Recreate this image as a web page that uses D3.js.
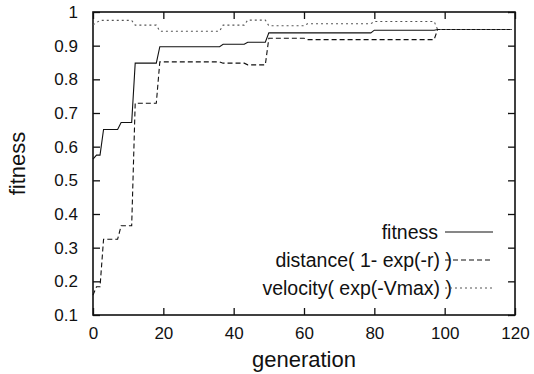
<!DOCTYPE html>
<html><head><meta charset="utf-8">
<script src="https://cdn.jsdelivr.net/npm/d3@7"></script>
<style>body{margin:0;background:#fff}svg{display:block}text{font-family:"Liberation Sans",Arial,sans-serif;fill:#111}</style>
</head><body><div id="c"></div>
<script>
// Breakpoint data (generation, value)
const fitnessGen = [0, 1, 2, 3, 7, 8, 11, 12, 18, 19, 36, 37, 43, 44, 49, 50, 79, 80, 97, 98, 119];
const fitnessVal = [0.563, 0.575, 0.575, 0.651, 0.651, 0.672, 0.672, 0.848, 0.848, 0.897, 0.897, 0.904, 0.904, 0.910, 0.910, 0.938, 0.938, 0.946, 0.946, 0.948, 0.948];
const distanceGen = [0, 1, 2, 3, 7, 8, 11, 12, 18, 19, 36, 37, 43, 44, 49, 50, 60, 61, 97, 98, 119];
const distanceVal = [0.159, 0.184, 0.184, 0.325, 0.325, 0.365, 0.365, 0.729, 0.729, 0.852, 0.852, 0.848, 0.848, 0.843, 0.843, 0.922, 0.922, 0.918, 0.918, 0.948, 0.948];
const velocityGen = [0, 2, 11, 12, 18, 19, 36, 37, 43, 44, 49, 50, 60, 61, 79, 80, 97, 98, 119];
const velocityVal = [0.962, 0.975, 0.975, 0.961, 0.961, 0.943, 0.943, 0.961, 0.961, 0.976, 0.976, 0.959, 0.959, 0.965, 0.965, 0.972, 0.972, 0.948, 0.948];
const seriesNames = ["fitness", "distance( 1- exp(-r) )", "velocity( exp(-Vmax) )"];
const xTicks = [0, 20, 40, 60, 80, 100, 120];
const yTicks = [0.1, 0.2, 0.3, 0.4, 0.5, 0.6, 0.7, 0.8, 0.9, 1];
const xTitle = "generation", yTitle = "fitness";

const W = 534, H = 374;
const m = {l: 93, r: 19, t: 12, b: 59};
const svg = d3.select("#c").append("svg").attr("width", W).attr("height", H);
const x = d3.scaleLinear().domain([0, 120]).range([m.l, W - m.r]);
const y = d3.scaleLinear().domain([0.1, 1]).range([H - m.b, m.t]);
const tl = 7, ink = "#111";

// ticks (inward, mirrored)
const axB = svg.append("g").attr("transform", `translate(0,${H - m.b})`)
  .call(d3.axisBottom(x).tickValues(xTicks).tickSizeInner(-tl).tickSizeOuter(0).tickPadding(12).tickFormat(d3.format("d")));
const axT = svg.append("g").attr("transform", `translate(0,${m.t})`)
  .call(d3.axisTop(x).tickValues(xTicks).tickSizeInner(-tl).tickSizeOuter(0).tickFormat(""));
const axL = svg.append("g").attr("transform", `translate(${m.l},0)`)
  .call(d3.axisLeft(y).tickValues(yTicks).tickSizeInner(-tl).tickSizeOuter(0).tickPadding(15).tickFormat(d => d === 1 ? "1" : d3.format(".1f")(d)));
const axR = svg.append("g").attr("transform", `translate(${W - m.r},0)`)
  .call(d3.axisRight(y).tickValues(yTicks).tickSizeInner(-tl).tickSizeOuter(0).tickFormat(""));
[axB, axT, axL, axR].forEach(g => {
  g.select(".domain").remove();
  g.selectAll("line").attr("stroke", ink).attr("stroke-width", 1.3);
  g.selectAll("text").attr("font-size", 17).attr("font-family", "Liberation Sans, Arial, sans-serif").attr("fill", ink);
});
svg.append("rect").attr("x", m.l).attr("y", m.t).attr("width", W - m.r - m.l).attr("height", H - m.b - m.t)
  .attr("fill", "none").attr("stroke", ink).attr("stroke-width", 1.6);

// titles
svg.append("text").attr("x", (m.l + W - m.r) / 2).attr("y", 367).attr("text-anchor", "middle").attr("font-size", 22).text(xTitle);
svg.append("text").attr("transform", `translate(25,${(m.t + H - m.b) / 2}) rotate(-90)`).attr("text-anchor", "middle").attr("font-size", 22).text(yTitle);

// series
const line = d3.line().x(d => x(d[0])).y(d => y(d[1]));
const series = [
  {gen: fitnessGen, val: fitnessVal, dash: null, color: "#111"},
  {gen: distanceGen, val: distanceVal, dash: "5,3", color: "#111"},
  {gen: velocityGen, val: velocityVal, dash: "2,3", color: "#555"}
];
series.forEach(s => {
  svg.append("path").datum(s.gen.map((g, i) => [g, s.val[i]]))
    .attr("d", line).attr("fill", "none").attr("stroke", s.color).attr("stroke-width", 1.1)
    .attr("stroke-dasharray", s.dash);
});

// legend
const legEnd = [438, 452, 452], legY = [232, 260, 288];
series.forEach((s, i) => {
  svg.append("text").attr("x", legEnd[i]).attr("y", legY[i]).attr("dy", "0.35em").attr("text-anchor", "end")
    .attr("font-size", 19.5).text(seriesNames[i]);
  svg.append("line").attr("x1", 445).attr("x2", 493).attr("y1", legY[i]).attr("y2", legY[i])
    .attr("stroke", s.color).attr("stroke-width", 1.1).attr("stroke-dasharray", s.dash);
});
</script></body></html>
